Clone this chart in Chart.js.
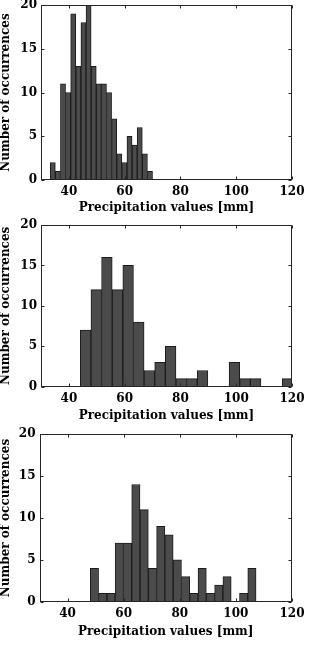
<!DOCTYPE html>
<html><head><meta charset="utf-8">
<script src="https://cdn.jsdelivr.net/npm/chart.js@4/dist/chart.umd.min.js"></script>
<style>
html,body{margin:0;padding:0;background:#fff;overflow:hidden;width:309px;height:646px;position:relative}
canvas{position:absolute;left:0}
</style></head><body>
<canvas id="c1"></canvas><canvas id="c2"></canvas><canvas id="c3"></canvas>
<script>
const xTicks = [40, 60, 80, 100, 120];
const yTicks = [0, 5, 10, 15, 20];
const xTitle = 'Precipitation values [mm]';
const yTitle = 'Number of occurrences';

const bins1 = [34.22, 36.05, 37.89, 39.72, 41.56, 43.39, 45.23, 47.06, 48.90, 50.73, 52.57, 54.40, 56.24, 58.07, 59.91, 61.74, 63.58, 65.41, 67.25, 69.08];
const counts1 = [2, 1, 11, 10, 19, 13, 18, 20, 13, 11, 11, 10, 7, 3, 2, 5, 4, 6, 3, 1];

const bins2 = [46.01, 49.82, 53.63, 57.44, 61.25, 65.06, 68.87, 72.68, 76.49, 80.30, 84.11, 87.92, 91.73, 95.54, 99.35, 103.16, 106.97, 110.78, 114.59, 118.40];
const counts2 = [7, 12, 16, 12, 15, 8, 2, 3, 5, 1, 1, 2, 0, 0, 3, 1, 1, 0, 0, 1];

const bins3 = [49.58, 52.53, 55.49, 58.44, 61.40, 64.35, 67.31, 70.26, 73.22, 76.17, 79.13, 82.08, 85.04, 87.99, 90.95, 93.90, 96.86, 99.81, 102.77, 105.72];
const counts3 = [4, 1, 1, 7, 7, 14, 11, 4, 9, 8, 5, 3, 1, 4, 1, 2, 3, 0, 1, 4];

const panels = [
  {id:'c1', bins:bins1, counts:counts1, top:-15, bottom:216, plotTop:5, plotBottom:180, titleY:208, left:41, right:295.5},
  {id:'c2', bins:bins2, counts:counts2, top:205, bottom:425, plotTop:225, plotBottom:386.7, titleY:416, left:41, right:296},
  {id:'c3', bins:bins3, counts:counts3, top:415, bottom:646, plotTop:434.3, plotBottom:601.7, titleY:631.7, left:39.5, right:296}
];

const FONT = "'DejaVu Serif', serif";

const boxPlugin = {
  id: 'box',
  afterDatasetsDraw(chart) {
    const {ctx, chartArea: a, scales: {x, y}} = chart;
    ctx.save();
    ctx.strokeStyle = '#262626';
    ctx.lineWidth = 1;
    const L = Math.round(a.left) + 0.5, R = Math.round(a.right) - 0.5;
    const T = Math.round(a.top) + 0.5, B = Math.round(a.bottom) - 0.5;
    ctx.strokeRect(L, T, R - L, B - T);
    ctx.beginPath();
    xTicks.forEach(v => {
      const p = Math.round(x.getPixelForValue(v)) + 0.5;
      ctx.moveTo(p, B); ctx.lineTo(p, B - 3);
      ctx.moveTo(p, T); ctx.lineTo(p, T + 3);
    });
    yTicks.forEach(v => {
      const p = Math.round(y.getPixelForValue(v)) + 0.5;
      ctx.moveTo(L, p); ctx.lineTo(L + 3, p);
      ctx.moveTo(R, p); ctx.lineTo(R - 3, p);
    });
    ctx.stroke();
    ctx.restore();
  }
};

panels.forEach(P => {
  const cv = document.getElementById(P.id);
  const h = P.bottom - P.top;
  cv.width = 309; cv.height = h;
  cv.style.top = P.top + 'px';
  cv.style.width = '309px'; cv.style.height = h + 'px';
  const xAxisH = P.bottom - P.plotBottom;
  new Chart(cv, {
    type: 'bar',
    data: {
      datasets: [{
        data: P.bins.map((b, i) => ({x: b, y: P.counts[i]})),
        backgroundColor: '#4b4b4b',
        borderColor: '#1c1c1c',
        borderWidth: 1,
        borderSkipped: false,
        barPercentage: 1,
        categoryPercentage: 1
      }]
    },
    options: {
      responsive: false,
      animation: false,
      devicePixelRatio: 1,
      layout: {padding: {top: P.plotTop - P.top, right: 309 - P.right, left: 0, bottom: 0}},
      plugins: {legend: {display: false}, tooltip: {enabled: false}},
      scales: {
        x: {
          type: 'linear', min: 30, max: 120, offset: false,
          afterBuildTicks: s => { s.ticks = xTicks.map(v => ({value: v})); },
          afterFit: s => { s.height = xAxisH; },
          grid: {display: false, drawTicks: false},
          border: {display: false},
          ticks: {color: '#000', padding: 4.5, maxRotation: 0, font: {family: FONT, size: 12, weight: 'bold'}},
          title: {display: true, text: xTitle, color: '#000',
                  padding: {top: 0, bottom: P.bottom - P.titleY - 7.2},
                  font: {family: FONT, size: 12, weight: 'bold', lineHeight: 1.2}}
        },
        y: {
          min: 0, max: 20,
          afterBuildTicks: s => { s.ticks = yTicks.map(v => ({value: v})); },
          afterFit: s => { s.width = P.left; },
          grid: {display: false, drawTicks: false},
          border: {display: false},
          ticks: {color: '#000', padding: 4, font: {family: FONT, size: 12, weight: 'bold'}},
          title: {display: true, text: yTitle, color: '#000',
                  padding: {top: -1, bottom: 0},
                  font: {family: FONT, size: 12, weight: 'bold', lineHeight: 1.2}}
        }
      }
    },
    plugins: [boxPlugin]
  });
});
</script>
</body></html>
